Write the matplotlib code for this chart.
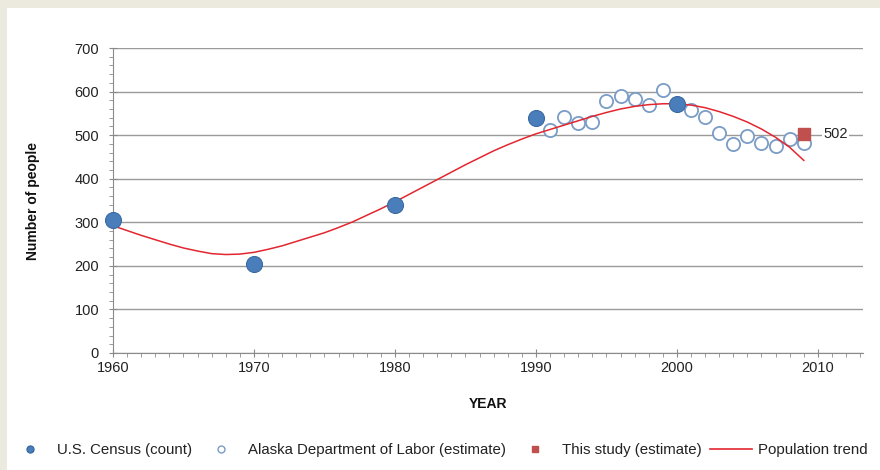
import matplotlib.pyplot as plt
from matplotlib.lines import Line2D
from matplotlib.patches import Rectangle
from matplotlib.ticker import MultipleLocator

plt.rcParams['font.family'] = ['Liberation Sans', 'DejaVu Sans']

# --- data ---
census_years = [1960, 1970, 1980, 1990, 2000]
census_vals = [305, 204, 340, 539, 572]

dol_years = [1991, 1992, 1993, 1994, 1995, 1996, 1997, 1998, 1999,
             2001, 2002, 2003, 2004, 2005, 2006, 2007, 2008, 2009]
dol_vals = [512, 542, 529, 531, 579, 590, 582, 569, 604,
            558, 542, 505, 480, 497, 482, 474, 491, 483]

study_years = [2009]
study_vals = [502]

# population trend
trend_years = list(range(1960, 2010))
trend_vals = [292, 281, 270, 260, 250, 241, 234, 228, 226, 227,
              231, 238, 246, 256, 266, 276, 288, 301, 316, 331,
              347, 364, 381, 398, 415, 432, 448, 464, 478, 491,
              503, 513, 523, 533, 543, 552, 560, 566, 570, 572,
              572, 569, 563, 554, 543, 530, 514, 495, 472, 442]

blue = '#4A7EBB'
blue_edge = '#3A6AA3'
hollow_edge = '#7A9CC6'
red_sq = '#C0504D'
red_line = '#E3262F'

fig = plt.figure(figsize=(8.8, 4.7), dpi=100)
fig.patch.set_facecolor('#ECE9DF')
fig.patches.append(Rectangle((7 / 880, 0), 1, 1 - 8 / 470, transform=fig.transFigure,
                             facecolor='white', edgecolor='none', zorder=-5))

ax = fig.add_axes([113 / 880, 1 - 353 / 470, 750 / 880, 305 / 470])
ax.set_facecolor('white')

ax.plot(dol_years, dol_vals, 'o', ms=9.5, mfc='white', mec=hollow_edge, mew=1.3,
        linestyle='none', zorder=3, clip_on=False)
ax.plot(trend_years, trend_vals, color=red_line, lw=1.1, zorder=4)
ax.plot(census_years, census_vals, 'o', ms=11.5, mfc=blue, mec=blue_edge, mew=0.8,
        linestyle='none', zorder=5, clip_on=False)
ax.plot(study_years, study_vals, 's', ms=9, mfc=red_sq, mec=red_sq,
        linestyle='none', zorder=6, clip_on=False)
ax.annotate(str(study_vals[0]), (study_years[0], study_vals[0]), xytext=(14, 0),
            textcoords='offset points', va='center', ha='left', fontsize=10.5, color='#222',
            bbox=dict(facecolor='white', edgecolor='none', pad=1), zorder=7)

ax.set_xlim(1960, 2013.2)
ax.set_ylim(0, 700)
ax.yaxis.set_major_locator(MultipleLocator(100))
ax.yaxis.set_minor_locator(MultipleLocator(20))
ax.xaxis.set_major_locator(MultipleLocator(10))
ax.xaxis.set_minor_locator(MultipleLocator(1))
ax.grid(axis='y', which='major', color='#9A9A9A', lw=1)
ax.set_axisbelow(True)

for s in ['top', 'right']:
    ax.spines[s].set_visible(False)
for s in ['left', 'bottom']:
    ax.spines[s].set_color('#8A8A8A')
ax.tick_params(axis='both', which='major', length=6, color='#8A8A8A', labelsize=10.5,
               labelcolor='#222', direction='inout')
ax.tick_params(axis='both', which='minor', length=3, color='#8A8A8A', direction='out')
ax.tick_params(axis='x', which='major', pad=3)
ax.tick_params(axis='y', which='major', pad=7)

fig.text(33 / 880, 0.573, 'Number of people', rotation=90, ha='center', va='center',
         fontsize=10, fontweight='bold', color='#111')
fig.text(488 / 880, 1 - 404 / 470, 'YEAR', ha='center', va='center',
         fontsize=10, fontweight='bold', color='#111')

handles = [
    Line2D([], [], marker='o', ls='none', ms=5, mfc=blue, mec=blue_edge),
    Line2D([], [], marker='o', ls='none', ms=5, mfc='white', mec=hollow_edge, mew=1),
    Line2D([], [], marker='s', ls='none', ms=5, mfc=red_sq, mec=red_sq),
    Line2D([], [], color=red_line, lw=1.2),
]
labels = ['U.S. Census (count)', 'Alaska Department of Labor (estimate)',
          'This study (estimate)', 'Population trend']
fig.legend(handles, labels, loc='center', bbox_to_anchor=(0.498, 1 - 450 / 470), ncol=4,
           frameon=False, fontsize=10.8, handlelength=2.8, handletextpad=0.4,
           columnspacing=0.55, labelcolor='#222')

fig.savefig('out.png', dpi=100, facecolor=fig.get_facecolor())
